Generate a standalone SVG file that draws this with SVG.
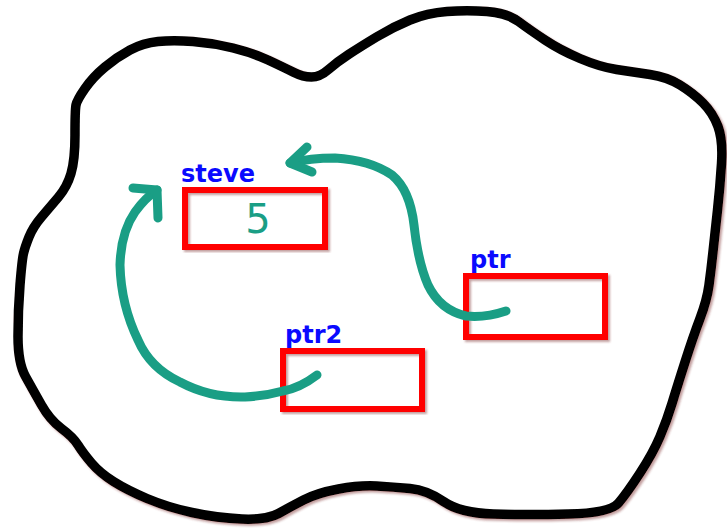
<svg xmlns="http://www.w3.org/2000/svg" width="727" height="531" viewBox="0 0 727 531">
  <style>
    .blob { fill: #ffffff; stroke: #000000; stroke-width: 9.5; stroke-linejoin: round; stroke-linecap: round; }
    .box { fill: none; stroke: #ff0000; stroke-width: 6; stroke-linejoin: miter; }
    .label { font-family: "Comic Sans MS", "DejaVu Sans", sans-serif; font-weight: bold; font-size: 24px; fill: #0a0aff; }
    .value { font-family: "Comic Sans MS", "DejaVu Sans", sans-serif; font-size: 40px; fill: #1a9e85; }
    .ref { fill: none; stroke: #1a9e85; stroke-width: 9; stroke-linecap: round; stroke-linejoin: round; }
  </style>
  <defs>
    <filter id="shade" x="-10%" y="-10%" width="120%" height="120%">
      <feDropShadow dx="2" dy="2" stdDeviation="1.2" flood-color="#7a2a2a" flood-opacity="0.45"/>
    </filter>
  </defs>
  <rect width="727" height="531" fill="#ffffff"/>

  <!-- memory region outline -->
  <g id="memory" filter="url(#shade)">
    <path class="blob" d="M76,105 Q77,100 85,88.5 Q93,77 105,67 Q117,57 130,50 Q143,43 158,41.5 Q173,40 193,41.5 Q213,43 233,48 Q253,53 268,60 Q283,67 293,72 Q303,77 311.5,77 Q320,77 328.5,69.5 Q337,62 348.5,54.5 Q360,47 376.5,37 Q393,27 410,20 Q427,13 447,11.5 Q467,10 487,11.5 Q507,13 518.5,21.5 Q530,30 545,40 Q560,50 580,58.5 Q600,67 616.5,69.5 Q633,72 650,74.5 Q667,77 680,85 Q693,93 703,103 Q713,113 718,126.5 Q723,140 721.5,163.5 Q720,187 717.5,210 Q715,233 713,251.5 Q711,270 709,285 Q707,300 700,318.5 Q693,337 685,362 Q677,387 672,403.5 Q667,420 660,436.5 Q653,453 640,473 Q627,493 618.5,503 Q610,513 568.5,514 Q527,515 493.5,514 Q460,513 443.5,501.5 Q427,490 410,488.5 Q393,487 376.5,486 Q360,485 338.5,489 Q317,493 303.5,500 Q290,507 278.5,513.5 Q267,520 242,519 Q217,518 192,512.5 Q167,507 147,498.5 Q127,490 113.5,481.5 Q100,473 91.5,463 Q83,453 78,445 Q73,437 61.5,428.5 Q50,420 41.5,405 Q33,390 25.5,376.5 Q18,363 18,336.5 Q18,310 20,285 Q22,260 23.5,253.5 Q25,247 29,237 Q33,227 41.5,217 Q50,207 58.5,197 Q67,187 71,173.5 Q75,160 75,135 Q75,110 76,105 Z"/>
  </g>

  <!-- variables -->
  <g id="steve">
    <rect class="box" x="185" y="190" width="140" height="57" filter="url(#shade)"/>
    <text class="label" x="181" y="182">steve</text>
    <text class="value" x="258" y="233" text-anchor="middle">5</text>
  </g>
  <g id="ptr">
    <rect class="box" x="466" y="276" width="139" height="61" filter="url(#shade)"/>
    <text class="label" x="470" y="268">ptr</text>
  </g>
  <g id="ptr2">
    <rect class="box" x="283" y="351" width="139" height="58" filter="url(#shade)"/>
    <text class="label" x="285" y="343">ptr2</text>
  </g>

  <!-- pointer connectors -->
  <g id="connectors">
    <path class="ref" d="M506,311 Q485,318 466,316 Q440,310 428,285 Q418,262 414,225 Q410,190 392,175 Q370,160 335,158 Q310,158 290,163"/>
    <path class="ref" d="M307,147 L290,163 L312,172"/>
    <path class="ref" d="M317,375 Q300,388 283,391 Q265,396 245,397 Q210,398 180,382 Q150,368 138,340 Q121,305 120,265 Q121,232 135,212 Q145,198 157,190"/>
    <path class="ref" d="M133,188 L157,190 L158,218"/>
  </g>
</svg>
